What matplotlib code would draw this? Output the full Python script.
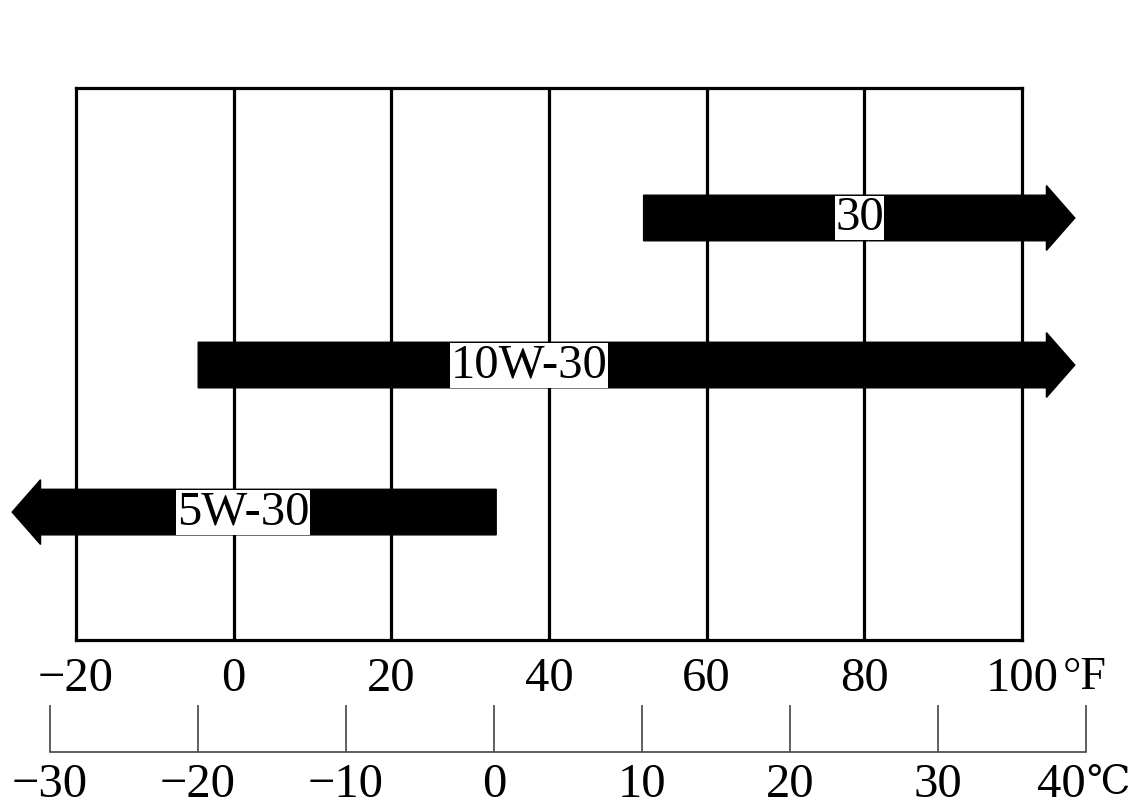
import numpy as np
import matplotlib
matplotlib.use('Agg')
import matplotlib.pyplot as plt
from matplotlib.patches import FancyArrow

plt.rcParams['font.family'] = ['Liberation Serif', 'DejaVu Serif']

# oil grades: range in degrees F (open ends run past the scale)
grades = ['30', '10W-30', '5W-30']
start_f = [52, -4.5, 33.3]
end_f = [106.7, 106.7, -28.1]
label_f = [79.4, 37.5, 1.2]
rows = [1, 2, 3]

f_ticks = [-20, 0, 20, 40, 60, 80, 100]
f_labels = ['\u221220', '0', '20', '40', '60', '80', '100']
c_ticks = [-30, -20, -10, 0, 10, 20, 30, 40]
c_labels = ['\u221230', '\u221220', '\u221210', '0', '10', '20', '30', '40']

W, H = 1134, 807
fs = 35
fig = plt.figure(figsize=(W / 100, H / 100), dpi=100)
ax = fig.add_axes([76 / W, 1 - 640 / H, 946 / W, 552 / H])
ax.set_xlim(-20, 100)
ax.set_ylim(3.87, 0.116)

for s in ax.spines.values():
    s.set_linewidth(2.3)
ax.set_yticks([])
ax.set_xticks(f_ticks)
ax.set_xticklabels(f_labels, fontsize=fs)
ax.tick_params(axis='x', length=0, pad=12)
for x in f_ticks[1:-1]:
    ax.axvline(x, color='black', lw=2.3, zorder=1)

ax.annotate('\u00b0F', xy=(100, 0), xycoords=('data', 'axes fraction'),
            xytext=(29, -12), textcoords='offset points',
            ha='left', va='top', fontsize=fs - 2)

for g, s, e, lx, r in zip(grades, start_f, end_f, label_f, rows):
    arr = FancyArrow(s, r, e - s, 0, width=0.31, head_width=0.44,
                     head_length=3.6, length_includes_head=True,
                     color='black', clip_on=False, zorder=3)
    ax.add_patch(arr)
    ax.text(lx, r, g, ha='center', va='center', fontsize=fs, zorder=4,
            bbox=dict(facecolor='white', edgecolor='none', pad=0.5))

# celsius scale underneath
ax2 = fig.add_axes([50 / W, 1 - 752 / H, 1036 / W, 0.001])
ax2.set_xlim(-30, 40)
ax2.set_yticks([])
for k in ['top', 'left', 'right']:
    ax2.spines[k].set_visible(False)
ax2.spines['bottom'].set_linewidth(1.2)
ax2.spines['bottom'].set_color('#444444')
ax2.set_xticks(c_ticks)
ax2.set_xticklabels(c_labels, fontsize=fs)
ax2.get_xticklabels()[-1].set_ha('right')
ax2.tick_params(axis='x', direction='in', length=34, width=1.2,
                color='#444444', pad=8)
ax2.patch.set_alpha(0)
ax2.annotate('\u2103', xy=(40, 0), xycoords=('data', 'axes fraction'),
             xytext=(0, -9), textcoords='offset points',
             ha='left', va='top', fontsize=fs - 7)

fig.savefig('out.png', dpi=100)
